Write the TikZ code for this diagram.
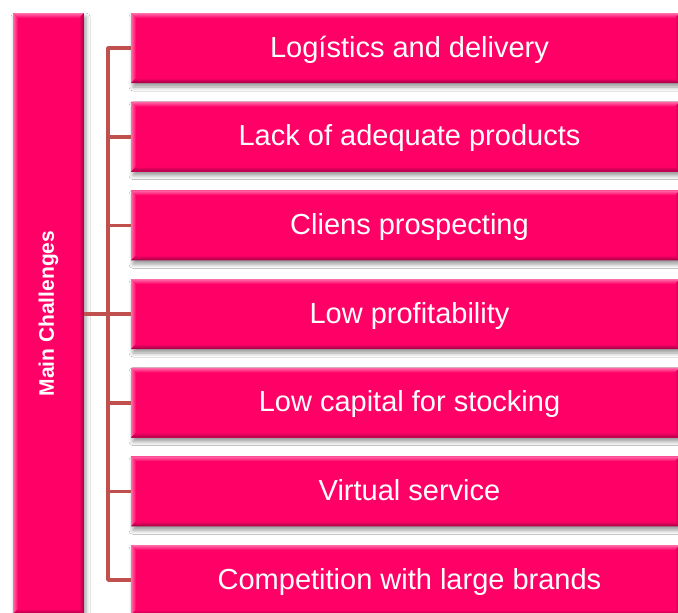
\documentclass[tikz,border=0pt]{standalone}
\usepackage{fontspec}
\setmainfont{Liberation Sans}
\usetikzlibrary{shadows.blur}

\definecolor{pinkmain}{RGB}{255,0,102}
\definecolor{pinklight}{RGB}{255,110,170}
\definecolor{pinkdark}{RGB}{160,0,70}
\definecolor{branchred}{RGB}{192,80,77}

\tikzset{
  bevelbox/.style={
    fill=pinkmain, draw=none, text=white, inner sep=0pt,
    blur shadow={shadow xshift=2pt, shadow yshift=-4pt,
                 shadow blur radius=4pt, shadow opacity=40},
    path picture={
      \coordinate (bnw) at (path picture bounding box.north west);
      \coordinate (bne) at (path picture bounding box.north east);
      \coordinate (bsw) at (path picture bounding box.south west);
      \coordinate (bse) at (path picture bounding box.south east);
      % raised edges: light on top and left, dark on bottom and right
      \shade[top color=pinklight, bottom color=pinkmain]
        (bnw) -- (bne) -- ([shift={(-5pt,-5pt)}]bne) -- ([shift={(5pt,-5pt)}]bnw) -- cycle;
      \shade[left color=pinklight, right color=pinkmain]
        (bnw) -- ([shift={(5pt,-5pt)}]bnw) -- ([shift={(5pt,5pt)}]bsw) -- (bsw) -- cycle;
      \shade[top color=pinkmain, bottom color=pinkdark]
        ([shift={(5pt,5pt)}]bsw) -- ([shift={(-5pt,5pt)}]bse) -- (bse) -- (bsw) -- cycle;
      \shade[left color=pinkmain, right color=pinkdark]
        ([shift={(-5pt,-5pt)}]bne) -- (bne) -- (bse) -- ([shift={(-5pt,5pt)}]bse) -- cycle;
    }},
  itembox/.style={bevelbox, minimum width=549pt, minimum height=70pt,
    text height=18pt, text depth=0pt,
    font=\fontsize{29}{34}\selectfont},
  branch/.style={draw=branchred, line width=3.6pt, line join=round}
}

\begin{document}
\begin{tikzpicture}[x=1pt, y=-1pt]
  \useasboundingbox (0,0) rectangle (678,613);
  \fill[white] (0,0) rectangle (678,613);

  % side title
  \node[bevelbox, minimum width=71pt, minimum height=601pt] (main) at (48.5,313.5)
    {\rotatebox{90}{\bfseries\fontsize{21}{25}\selectfont Main Challenges}};

  % list of challenges
  \node[itembox] (b1) at (405.5,48.0)  {\hspace*{8pt}Logístics and delivery};
  \node[itembox] (b2) at (405.5,136.7) {\hspace*{8pt}Lack of adequate products};
  \node[itembox] (b3) at (405.5,225.3) {\hspace*{8pt}Cliens prospecting};
  \node[itembox] (b4) at (405.5,314.0) {\hspace*{8pt}Low profitability};
  \node[itembox] (b5) at (405.5,402.7) {\hspace*{8pt}Low capital for stocking};
  \node[itembox] (b6) at (405.5,491.3) {\hspace*{8pt}Virtual service};
  \node[itembox] (b7) at (405.5,580.0) {\hspace*{8pt}Competition with large brands};

  % bracket joining the title to every item
  \coordinate (spine) at (108,0);
  \draw[branch] (b1.west) -| (spine |- b4.west) |- (b7.west);
  \foreach \b in {b2,b3,b5,b6}
    \draw[branch] (spine |- \b.west) -- (\b.west);
  \draw[branch] (main.east |- b4.west) -- (b4.west);
\end{tikzpicture}
\end{document}
